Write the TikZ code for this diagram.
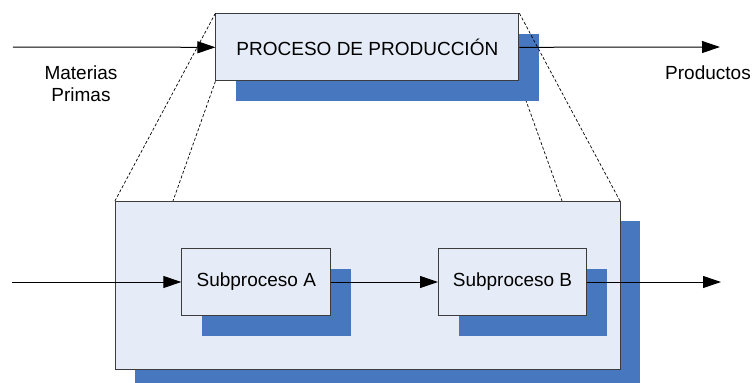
\documentclass[tikz,border=0pt]{standalone}
\usepackage{fontspec}
\setmainfont{Liberation Sans}
\usetikzlibrary{arrows.meta,shadows}

\definecolor{boxfill}{HTML}{E6ECF7}
\definecolor{boxline}{HTML}{3C3C3C}
\definecolor{shadowblue}{HTML}{4677BF}

\begin{document}
\begin{tikzpicture}[
                x=1pt, y=-1pt,
                every node/.style={font=\fontsize{19}{22}\selectfont, inner sep=0pt},
                procbox/.style={rectangle, draw=boxline, line width=1pt, fill=boxfill,
                    general shadow={fill=shadowblue, shadow xshift=20pt, shadow yshift=-20pt}},
                flow/.style={line width=1pt, -{Triangle[length=18pt,width=12pt]}},
                zoomline/.style={line width=0.7pt, dash pattern=on 3pt off 2pt}
            ]

            \clip (0,0) rectangle (753,383);

            % Hidden end points
            \coordinate (inTop) at (13,47);
            \coordinate (outTop) at (720,47);
            \coordinate (inBot) at (12,282);
            \coordinate (outBot) at (721,282);
            \coordinate (zoomL) at (173,201);
            \coordinate (zoomR) at (562,201);

            % Line behind the shadow
            \draw[zoomline] (367.4,47.3) ++(151.5,33.5) -- (zoomR);

            % Main process
            \node[procbox, minimum width=303pt, minimum height=67pt] (proc) at (367.4,47.3)
                {PROCESO DE PRODUCCIÓN};

            % Zoom lines
            \draw[zoomline] (proc.north west) -- (114.9,201);
            \draw[zoomline] (proc.south west) -- (zoomL);
            \draw[zoomline] (proc.north east) -- (620,201);

            % Expanded process
            \node[procbox, minimum width=505pt, minimum height=168pt] (big) at (367.5,285) {};
            \node[procbox, minimum width=149pt, minimum height=67pt] (subA) at (256.3,282) {Subproceso A};
            \node[procbox, minimum width=148pt, minimum height=67pt] (subB) at (512.5,282) {Subproceso B};

            % Flows
            \draw[flow] (inTop) -- (proc.west);
            \draw[flow] (proc.east) -- (outTop);
            \draw[flow] (inBot) -- (subA.west);
            \draw[flow] (subA.east) -- (subB.west);
            \draw[flow] (subB.east) -- (outBot);

            % Labels
            \node[align=center] (mat) at (81,84) {Materias\\Primas};
            \node (prod) at (708,73) {Productos};

            \end{tikzpicture}
\end{document}
